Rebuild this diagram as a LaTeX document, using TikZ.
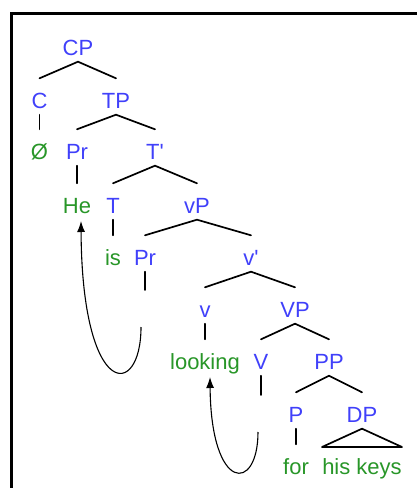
\documentclass[tikz,border=0pt]{standalone}
\usepackage{fontspec}
\setmainfont{Liberation Sans}
\usetikzlibrary{arrows.meta}
\definecolor{catblue}{RGB}{64,64,250}
\definecolor{wordgreen}{RGB}{40,150,40}
\tikzset{
  lbl/.style={font=\fontsize{22}{26}\selectfont, text height=28pt, text depth=5pt,
    inner ysep=1.5pt, inner xsep=0pt, anchor=base},
  cat/.style={lbl, text=catblue},
  word/.style={lbl, text=wordgreen},
  branch/.style={line width=1.7pt, line cap=round},
  frame/.style={line width=2.7pt},
  mv/.style={line width=1.1pt, -{Latex[length=11pt,width=8pt]}}
}
\begin{document}
\begin{tikzpicture}[x=1pt,y=-1pt]
\useasboundingbox (0,0) rectangle (416,488);
\coordinate (f1) at (11.3,490);
\coordinate (f2) at (11.3,13.7);
\coordinate (f3) at (418,13.7);
\draw[frame] (f1) -- (f2) -- (f3);
% nodes
\node[cat]  (CP)  at (78,55)  {CP};
\node[cat]  (C)   at (39.5,108) {C};
\node[cat]  (TP)  at (116,108) {TP};
\node[word] (null) at (39.5,159) {Ø};
\node[cat]  (Pr1) at (77,159) {Pr};
\node[cat]  (Tb)  at (155,159) {T\textquotesingle};
\node[word] (He)  at (77,213) {He};
\node[cat]  (T)   at (113,213) {T};
\node[cat]  (vP)  at (197,213) {vP};
\node[word] (is)  at (113,265) {is};
\node[cat]  (Pr2) at (145,265) {Pr};
\node[cat]  (vb)  at (251,265) {v\textquotesingle};
\node[cat]  (v)   at (205,317) {v};
\node[cat]  (VP)  at (295,317) {VP};
\node[word] (looking) at (205,369) {looking};
\node[cat]  (V)   at (261,369) {V};
\node[cat]  (PP)  at (329,369) {PP};
\node[cat]  (P)   at (296,422) {P};
\node[cat]  (DP)  at (362,422) {DP};
\node[word] (for) at (296,474) {for};
\node[word] (keys) at (362,474) {his keys};
% branches
\draw[branch] (C.north) -- (CP.south) -- (TP.north);
\draw[branch] (C.south) -- (null.north);
\draw[branch] (Pr1.north) -- (TP.south) -- (Tb.north);
\draw[branch] (Pr1.south) -- (He.north);
\draw[branch] (T.north) -- (Tb.south) -- (vP.north);
\draw[branch] (T.south) -- (is.north);
\draw[branch] (Pr2.north) -- (vP.south) -- (vb.north);
\coordinate (Pr2end) at (145,290);
\draw[branch] (Pr2.south) -- (Pr2end);
\draw[branch] (v.north) -- (vb.south) -- (VP.north);
\draw[branch] (v.south) -- (looking.north);
\draw[branch] (V.north) -- (VP.south) -- (PP.north);
\coordinate (Vend) at (261,395);
\draw[branch] (V.south) -- (Vend);
\draw[branch] (P.north) -- (PP.south) -- (DP.north);
\draw[branch] (P.south) -- (for.north);
\coordinate (triL) at (322,447);
\coordinate (triR) at (402,447);
\draw[branch, line join=round] (DP.south) -- (triL) -- (triR) -- cycle;
% movement arrows
\coordinate (t1) at (141,327);
\coordinate (t2) at (258,432);
\coordinate (He1) at (81,221);
\coordinate (lk1) at (210,377);
\draw[mv] (t1) .. controls (141,400) and (82,400) .. (He1);
\draw[mv] (t2) .. controls (258,493) and (211,493) .. (lk1);
\end{tikzpicture}
\end{document}
